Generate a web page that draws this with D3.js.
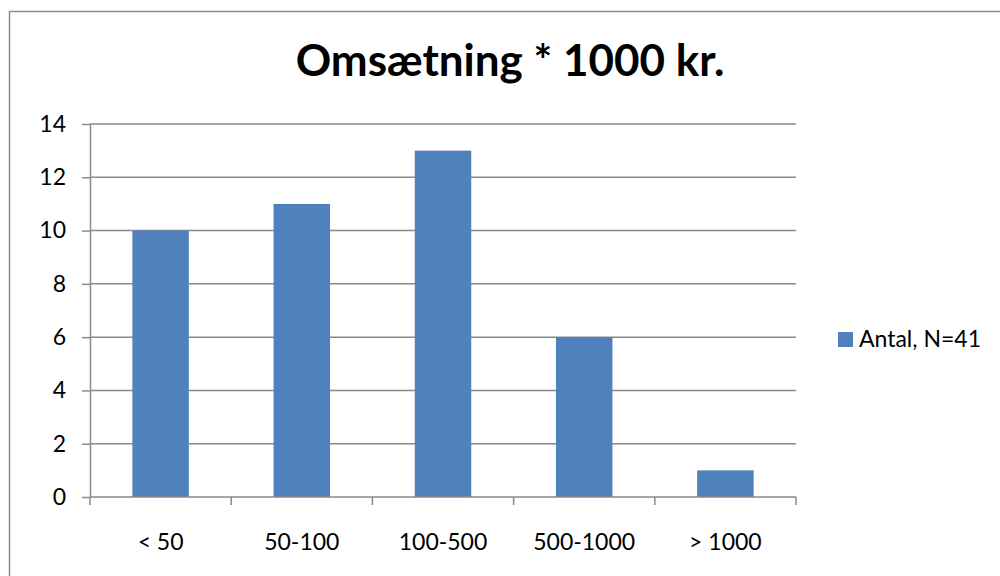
<!DOCTYPE html>
<html>
<head>
<meta charset="utf-8">
<script src="https://cdn.jsdelivr.net/npm/d3@7"></script>
<style>
  html, body { margin: 0; padding: 0; background: #fff; }
  svg { display: block; }
</style>
</head>
<body>
<svg id="chart"></svg>
<script>
// data
const categories = ["< 50", "50-100", "100-500", "500-1000", "> 1000"]
const counts = [10, 11, 13, 6, 1]
const yTicks = [0, 2, 4, 6, 8, 10, 12, 14]
const seriesName = "Antal, N=41"
const title = "Omsætning * 1000 kr."

const width = 1000
const height = 576
const margin = { top: 124, right: 204, bottom: 79, left: 90 }
const barColor = "#4f81bd"
const gridColor = "#898989"
const font = "Lato, 'Open Sans', sans-serif"

const svg = d3.select("#chart")
    .attr("width", width)
    .attr("height", height)
    .attr("viewBox", `0 0 ${width} ${height}`)

// chart border (right and bottom edges fall outside the picture)
svg.append("rect")
    .attr("x", 9.5)
    .attr("y", 11.5)
    .attr("width", width + 10)
    .attr("height", height + 10)
    .attr("fill", "none")
    .attr("stroke", "#8c8c8c")
    .attr("stroke-width", 1.5)

const x = d3.scaleBand()
    .domain(categories)
    .range([margin.left, width - margin.right])
    .paddingInner(0.6)
    .paddingOuter(0.3)

const y = d3.scaleLinear()
    .domain([0, 14])
    .range([height - margin.bottom, margin.top])

// horizontal gridlines
svg.append("g")
    .attr("stroke", gridColor)
    .attr("stroke-width", 1.5)
  .selectAll("line")
  .data(yTicks.filter(d => d > 0))
  .join("line")
    .attr("x1", margin.left)
    .attr("x2", width - margin.right)
    .attr("y1", d => y(d))
    .attr("y2", d => y(d))

// y axis
svg.append("g")
    .attr("transform", `translate(${margin.left},0)`)
    .call(d3.axisLeft(y).tickValues(yTicks).tickSize(8).tickPadding(16).tickSizeOuter(0))
    .call(g => g.selectAll("line, path").attr("stroke", gridColor).attr("stroke-width", 1.5))
    .call(g => g.selectAll("text")
        .attr("fill", "#000")
        .style("font", `23px ${font}`))

// bars
svg.append("g")
    .attr("fill", barColor)
  .selectAll("rect")
  .data(counts)
  .join("rect")
    .attr("x", (d, i) => x(categories[i]))
    .attr("y", d => y(d))
    .attr("width", x.bandwidth())
    .attr("height", d => y(0) - y(d))

// x axis: ticks between categories
const step = x.step()
const bounds = d3.range(categories.length + 1).map(i => margin.left + i * step)
const xAxis = svg.append("g")
xAxis.append("line")
    .attr("x1", margin.left)
    .attr("x2", width - margin.right)
    .attr("y1", y(0))
    .attr("y2", y(0))
    .attr("stroke", gridColor)
    .attr("stroke-width", 1.5)
xAxis.selectAll(".tick")
  .data(bounds)
  .join("line")
    .attr("x1", d => d)
    .attr("x2", d => d)
    .attr("y1", y(0))
    .attr("y2", y(0) + 8)
    .attr("stroke", gridColor)
    .attr("stroke-width", 1.5)
xAxis.selectAll("text")
  .data(categories)
  .join("text")
    .attr("x", d => x(d) + x.bandwidth() / 2)
    .attr("y", y(0) + 53)
    .attr("text-anchor", "middle")
    .style("font", `23px ${font}`)
    .text(d => d)

// title
svg.append("text")
    .attr("x", 510)
    .attr("y", 76)
    .attr("text-anchor", "middle")
    .style("font", `bold 44px ${font}`)
    .text(title)

// legend
const legend = svg.append("g").attr("transform", "translate(838,332)")
legend.append("rect")
    .attr("width", 15)
    .attr("height", 15)
    .attr("fill", barColor)
legend.append("text")
    .attr("x", 21)
    .attr("y", 15)
    .style("font", `23px ${font}`)
    .text(seriesName)
</script>
</body>
</html>
